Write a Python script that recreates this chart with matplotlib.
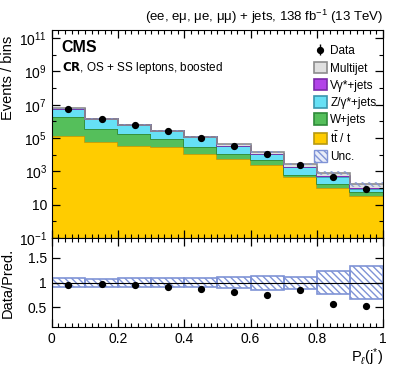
import numpy as np
import matplotlib
matplotlib.use("Agg")
import matplotlib.pyplot as plt
from matplotlib.patches import Patch
from matplotlib.ticker import FixedLocator, MultipleLocator, FuncFormatter, NullFormatter

plt.rcParams['font.family'] = ['Liberation Sans', 'DejaVu Sans']
plt.rcParams['mathtext.fontset'] = 'custom'
plt.rcParams['mathtext.rm'] = 'Liberation Sans'
plt.rcParams['mathtext.it'] = 'Liberation Sans:italic'

# ---- data ----
edges = np.linspace(0.0, 1.0, 11)
ttbar = np.array([1.4e5, 6.2e4, 3.5e4, 2.8e4, 1.1e4, 5.6e3, 2.6e3, 450, 100, 35])
wjets = np.array([1.66e6, 2.98e5, 1.45e5, 6.1e4, 1.7e4, 5.4e3, 2.1e3, 200, 80, 20])
zjets = np.array([3.47e6, 1.01e6, 4.17e5, 1.7e5, 8.15e4, 2.38e4, 6.2e3, 1230, 314, 38])
vgjets = np.array([3e4, 8e3, 3e3, 1.2e3, 500, 200, 80, 20, 6, 2])
multijet = np.array([9e5, 1.1e5, 5.3e4, 2.6e4, 1.1e4, 7.7e3, 3.7e3, 920, 342, 82])
data = np.array([5.9e6, 1.45e6, 6.2e5, 2.6e5, 1.05e5, 3.5e4, 1.1e4, 2400, 480, 92])
unc_rel = np.array([0.085, 0.08, 0.085, 0.085, 0.09, 0.11, 0.14, 0.12, 0.24, 0.33])

layers = [
    ("t$\\bar{\\rm t}$ / t", ttbar, "#FFCC00", "#B89A10"),
    ("W+jets", wjets, "#55BF5B", "#2F8A3A"),
    ("Z/\u03b3*+jets", zjets, "#66E0F5", "#3A96AE"),
    ("V\u03b3*+jets", vgjets, "#B243E8", "#7A2AA8"),
    ("Multijet", multijet, "#E0E0E0", "#8C8C8C"),
]

fig = plt.figure(figsize=(3.99, 3.68), dpi=100)
ax = fig.add_axes([0.130, 0.353, 0.830, 0.565])
rax = fig.add_axes([0.130, 0.111, 0.830, 0.242], sharex=ax)

centers = 0.5 * (edges[1:] + edges[:-1])
width = np.diff(edges)

bottom = np.full(10, 1e-3)
for name, vals, fc, ec in layers:
    top = bottom + vals
    ax.stairs(top, edges, baseline=bottom, fill=True, facecolor=fc, edgecolor='none')
    ax.stairs(top, edges, baseline=None, color=ec, linewidth=1.2)
    bottom = top
total = bottom

unc_col = "#7F93D6"
ax.bar(edges[:-1], 2 * unc_rel * total, bottom=total * (1 - unc_rel), width=width, align='edge',
       facecolor='none', edgecolor=unc_col, hatch='\\\\\\\\\\', linewidth=0, alpha=0.8)

data_handle = ax.errorbar(centers, data, yerr=np.sqrt(data), fmt='o', color='black',
                          markersize=4.2, elinewidth=1, capsize=0)

ax.set_yscale('log')
ax.set_ylim(0.1, 3e11)
ax.set_xlim(0, 1)

major = [10.0 ** k for k in range(-1, 12, 2)]
minor = [10.0 ** k for k in range(0, 12, 2)]
ax.yaxis.set_major_locator(FixedLocator(major))
ax.yaxis.set_minor_locator(FixedLocator(minor))
def fmt(v, pos):
    k = int(round(np.log10(v)))
    if k == 1:
        return "10"
    return "$10^{%d}$" % k
ax.yaxis.set_major_formatter(FuncFormatter(fmt))
ax.yaxis.set_minor_formatter(NullFormatter())

for a in (ax, rax):
    a.xaxis.set_major_locator(MultipleLocator(0.2))
    a.xaxis.set_minor_locator(MultipleLocator(0.02))
    a.tick_params(which='both', direction='in', top=True, right=True, labelsize=10)
    a.tick_params(which='major', length=6, width=0.9)
    a.tick_params(which='minor', length=3, width=0.8)
plt.setp(ax.get_xticklabels(), visible=False)

ax.set_ylabel("Events / bins", fontsize=10.5)
ax.yaxis.set_label_coords(-0.112, 0.77)

ax.text(0.03, 0.955, "CMS", transform=ax.transAxes, fontsize=11.5, fontweight='bold', va='top')
ax.text(0.03, 0.855, "$\\bf{CR}$, OS + SS leptons, boosted", transform=ax.transAxes,
        fontsize=8.5, va='top')
ax.text(1.0, 1.02, "(ee, e\u03bc, \u03bce, \u03bc\u03bc) + jets, 138 fb$^{-1}$ (13 TeV)",
        transform=ax.transAxes, ha='right', va='bottom', fontsize=9.5)

handles = [data_handle]
labels = ["Data"]
for name, vals, fc, ec in reversed(layers):
    handles.append(Patch(facecolor=fc, edgecolor=ec, linewidth=1.2))
    labels.append(name)
handles.append(Patch(facecolor='#E8ECF8', edgecolor=unc_col, hatch='\\\\\\\\\\', linewidth=1.0))
labels.append("Unc.")
ax.legend(handles, labels, loc='upper right', bbox_to_anchor=(1.005, 0.97), frameon=False,
          fontsize=8.5, handlelength=1.1, handleheight=1.1, handletextpad=0.3,
          labelspacing=0.38, borderaxespad=0.3)

# ---- ratio ----
ratio = data / total
rax.bar(edges[:-1], 2 * unc_rel, bottom=1 - unc_rel, width=width, align='edge',
        facecolor='none', edgecolor=unc_col, hatch='\\\\\\\\\\', linewidth=1.2)
rax.axhline(1.0, color='black', linewidth=0.8)
rax.errorbar(centers, ratio, yerr=np.sqrt(data) / total, fmt='o', color='black',
             markersize=4.2, elinewidth=1, capsize=0)
rax.set_ylim(0.1, 1.9)
rax.yaxis.set_major_locator(FixedLocator([0.5, 1.0, 1.5]))
rax.yaxis.set_major_formatter(FuncFormatter(lambda v, p: "1" if v == 1 else ("%g" % v)))
rax.set_ylabel("Data/Pred.", fontsize=10.5)
rax.yaxis.set_label_coords(-0.112, 0.5)
rax.set_xlabel("P$_{\\ell}$(j$^{*}$)", fontsize=10.5, loc='right', labelpad=0)
rax.xaxis.set_major_formatter(FuncFormatter(lambda v, p: "%g" % v))

fig.savefig("out.png", dpi=100)
